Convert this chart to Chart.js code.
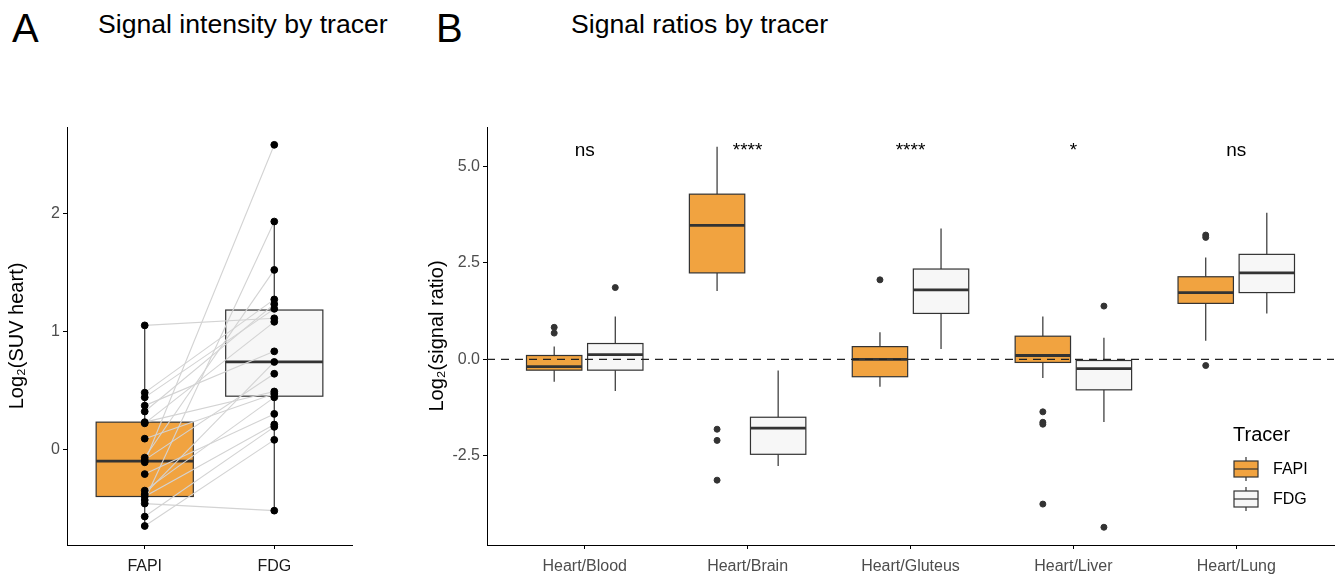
<!DOCTYPE html>
<html>
<head>
<meta charset="utf-8">
<script src="https://cdn.jsdelivr.net/npm/chart.js@4.4.1/dist/chart.umd.min.js"></script>
<style>
 body{margin:0;background:#fff;font-family:"Liberation Sans",Arial,sans-serif;}
 #wrap{position:relative;width:1339px;height:576px;overflow:hidden;}
 .tag{position:absolute;font-size:40px;line-height:40px;color:#000;}
 .ttl{position:absolute;font-size:26.6px;line-height:26px;color:#000;white-space:nowrap;}
 canvas{position:absolute;top:0;}
</style>
</head>
<body>
<div id="wrap">
 <div class="tag" style="left:12px;top:8px">A</div>
 <div class="ttl" style="left:98px;top:11px">Signal intensity by tracer</div>
 <div class="tag" style="left:436px;top:8px">B</div>
 <div class="ttl" style="left:571px;top:11px">Signal ratios by tracer</div>
 <canvas id="cA" width="400" height="576" style="left:0"></canvas>
 <canvas id="cB" width="919" height="576" style="left:420px"></canvas>
</div>
<script>
// ---- panel A: log2 SUV heart, paired FAPI / FDG
var tracers = ['FAPI', 'FDG'];
var suvFapi = [1.05, 0.48, 0.44, 0.37, 0.32, 0.23, 0.22, 0.09, -0.07, -0.09, -0.11, -0.21, -0.35, -0.38, -0.40, -0.43, -0.46, -0.57, -0.65];
var suvFdg  = [1.11, 1.27, 1.19, 0.83, 1.23, 0.49, 1.08, 0.47, 1.52, 0.64, 2.58, 0.30, 0.44, 0.74, 0.21, 1.93, -0.52, 0.19, 0.08];
var suvLow  = [-0.65, -0.52];
var suvQ1   = [-0.40, 0.45];
var suvMed  = [-0.10, 0.74];
var suvQ3   = [0.23, 1.18];
var suvHigh = [1.05, 1.93];
var suvTicks = [0, 1, 2];

// ---- panel B: log2 signal ratios
var ratios = ['Heart/Blood', 'Heart/Brain', 'Heart/Gluteus', 'Heart/Liver', 'Heart/Lung'];
var fapiLow  = [-0.58, 1.77, -0.71, -0.48, 0.48];
var fapiQ1   = [-0.28, 2.24, -0.45, -0.08, 1.45];
var fapiMed  = [-0.19, 3.47, 0.00, 0.10, 1.73];
var fapiQ3   = [0.10, 4.28, 0.33, 0.60, 2.14];
var fapiHigh = [0.33, 5.51, 0.70, 1.11, 2.64];
var fdgLow   = [-0.82, -2.76, 0.27, -1.62, 1.19];
var fdgQ1    = [-0.28, -2.46, 1.19, -0.79, 1.73];
var fdgMed   = [0.12, -1.78, 1.80, -0.24, 2.24];
var fdgQ3    = [0.41, -1.50, 2.34, -0.03, 2.72];
var fdgHigh  = [1.11, -0.29, 3.39, 0.56, 3.80];
var fapiOutCat = [0, 0, 1, 1, 1, 2, 3, 3, 3, 3, 4, 4, 4];
var fapiOutVal = [0.83, 0.68, -1.81, -2.10, -3.13, 2.06, -1.36, -1.63, -1.68, -3.75, 3.22, 3.16, -0.16];
var fdgOutCat = [0, 3, 3];
var fdgOutVal = [1.86, 1.38, -4.35];
var sigLabels = ['ns', '****', '****', '*', 'ns'];
var ratioTicks = [-2.5, 0, 2.5, 5];

var FONT = '"Liberation Sans", Arial, sans-serif';
var ORANGE = '#f1a340';
var LIGHT = '#f7f7f7';
var DARK = '#333333';
Chart.defaults.font.family = FONT;
Chart.defaults.animation = false;

function drawBox(ctx, xs, ys, x, half, low, q1, med, q3, high, fill) {
    var px = xs.getPixelForValue(x);
    var l = xs.getPixelForValue(x - half);
    var r = xs.getPixelForValue(x + half);
    var t = ys.getPixelForValue(q3), b = ys.getPixelForValue(q1);
    ctx.save();
    ctx.strokeStyle = DARK;
    ctx.lineWidth = 1.2;
    ctx.beginPath();
    ctx.moveTo(px, ys.getPixelForValue(high)); ctx.lineTo(px, t);
    ctx.moveTo(px, b); ctx.lineTo(px, ys.getPixelForValue(low));
    ctx.stroke();
    ctx.fillStyle = fill;
    ctx.fillRect(l, t, r - l, b - t);
    ctx.strokeRect(l, t, r - l, b - t);
    ctx.lineWidth = 2.8;
    var m = ys.getPixelForValue(med);
    ctx.beginPath(); ctx.moveTo(l, m); ctx.lineTo(r, m); ctx.stroke();
    ctx.restore();
}

function yAxis(min, max, ticks, fmt, title) {
    return {
        type: 'linear', min: min, max: max,
        afterBuildTicks: function(s) { s.ticks = ticks.map(function(v){ return {value: v}; }); },
        afterFit: function(s) { s.width = 67; },
        grid: {drawOnChartArea: false, drawTicks: true, tickLength: 4, color: '#000'},
        border: {display: true, color: '#000', width: 1},
        ticks: {color: '#4d4d4d', font: {size: 16}, padding: 3, callback: fmt},
        title: {display: true, text: title, color: '#000', font: {size: 20}, padding: {top: 5, bottom: 0}}
    };
}
function xAxis(min, max, names, col) {
    return {
        type: 'linear', min: min, max: max,
        afterBuildTicks: function(s) { s.ticks = names.map(function(n, i){ return {value: i + 1}; }); },
        afterFit: function(s) { s.height = 31; },
        grid: {drawOnChartArea: false, drawTicks: true, tickLength: 4, color: '#000'},
        border: {display: true, color: '#000', width: 1},
        ticks: {color: col, font: {size: 16}, padding: 8, autoSkip: false, maxRotation: 0,
            callback: function(v) { return names[v - 1]; }}
    };
}

// panel A
var pairSets = [];
for (var i = 0; i < suvFapi.length; i++) {
    pairSets.push({type: 'line', data: [{x: 1, y: suvFapi[i]}, {x: 2, y: suvFdg[i]}],
        borderColor: '#d3d3d3', borderWidth: 1.1, pointRadius: 0, order: 1});
}
var ptsA = [];
for (var i = 0; i < suvFapi.length; i++) ptsA.push({x: 1, y: suvFapi[i]});
for (var i = 0; i < suvFdg.length; i++) ptsA.push({x: 2, y: suvFdg[i]});

var boxesA = {
    id: 'boxesA',
    beforeDatasetsDraw: function(chart) {
        var xs = chart.scales.x, ys = chart.scales.y;
        for (var k = 0; k < tracers.length; k++) {
            drawBox(chart.ctx, xs, ys, k + 1, 0.375, suvLow[k], suvQ1[k], suvMed[k], suvQ3[k], suvHigh[k], k == 0 ? ORANGE : LIGHT);
        }
    }
};

new Chart(document.getElementById('cA'), {
    type: 'scatter',
    data: {datasets: [{data: ptsA, backgroundColor: '#000', borderColor: '#000', pointRadius: 3.4, order: 0}].concat(pairSets)},
    options: {
        responsive: false,
        layout: {padding: {top: 127, right: 48, left: 0, bottom: 0}},
        plugins: {legend: {display: false}, tooltip: {enabled: false}},
        scales: {
            x: xAxis(0.4, 2.6, tracers, '#1a1a1a'),
            y: yAxis(-0.811, 2.731, suvTicks, function(v){ return String(v); }, 'Log\u2082(SUV heart)')
        }
    },
    plugins: [boxesA]
});

// panel B
var OFF = 0.1875, HALF = 0.17;
var outFapi = fapiOutCat.map(function(c, i){ return {x: c + 1 - OFF, y: fapiOutVal[i]}; });
var outFdg = fdgOutCat.map(function(c, i){ return {x: c + 1 + OFF, y: fdgOutVal[i]}; });

var boxesB = {
    id: 'boxesB',
    beforeDatasetsDraw: function(chart) {
        var ctx = chart.ctx, xs = chart.scales.x, ys = chart.scales.y, a = chart.chartArea;
        for (var k = 0; k < ratios.length; k++) {
            drawBox(ctx, xs, ys, k + 1 - OFF, HALF, fapiLow[k], fapiQ1[k], fapiMed[k], fapiQ3[k], fapiHigh[k], ORANGE);
            drawBox(ctx, xs, ys, k + 1 + OFF, HALF, fdgLow[k], fdgQ1[k], fdgMed[k], fdgQ3[k], fdgHigh[k], LIGHT);
        }
        var z = ys.getPixelForValue(0);
        ctx.save();
        ctx.strokeStyle = '#222';
        ctx.lineWidth = 1.4;
        ctx.setLineDash([8, 6]);
        ctx.beginPath(); ctx.moveTo(a.left, z); ctx.lineTo(a.right, z); ctx.stroke();
        ctx.restore();
    },
    afterDraw: function(chart) {
        var ctx = chart.ctx, xs = chart.scales.x, ys = chart.scales.y;
        ctx.save();
        ctx.fillStyle = '#000';
        ctx.font = '19px ' + FONT;
        ctx.textAlign = 'center';
        ctx.textBaseline = 'alphabetic';
        for (var k = 0; k < sigLabels.length; k++) {
            ctx.fillText(sigLabels[k], xs.getPixelForValue(k + 1), ys.getPixelForValue(5.27));
        }
        // legend
        var lx = 813, keys = [[ORANGE, 469, 'FAPI'], [LIGHT, 499, 'FDG']];
        ctx.textAlign = 'left';
        ctx.textBaseline = 'middle';
        ctx.font = '20px ' + FONT;
        ctx.fillText('Tracer', lx, 435);
        ctx.font = '16px ' + FONT;
        keys.forEach(function(kk) {
            var cy = kk[1];
            ctx.strokeStyle = DARK;
            ctx.lineWidth = 1.2;
            ctx.beginPath(); ctx.moveTo(lx + 13, cy - 12); ctx.lineTo(lx + 13, cy + 12); ctx.stroke();
            ctx.fillStyle = kk[0];
            ctx.fillRect(lx + 1, cy - 8, 24, 16);
            ctx.strokeRect(lx + 1, cy - 8, 24, 16);
            ctx.beginPath(); ctx.moveTo(lx + 1, cy); ctx.lineTo(lx + 25, cy); ctx.stroke();
            ctx.fillStyle = '#000';
            ctx.fillText(kk[2], lx + 40, cy + 1);
        });
        ctx.restore();
    }
};

new Chart(document.getElementById('cB'), {
    type: 'scatter',
    data: {datasets: [
        {data: outFapi, backgroundColor: DARK, borderColor: DARK, pointRadius: 3},
        {data: outFdg, backgroundColor: DARK, borderColor: DARK, pointRadius: 3}
    ]},
    options: {
        responsive: false,
        layout: {padding: {top: 127, right: 5, left: 0, bottom: 0}},
        plugins: {legend: {display: false}, tooltip: {enabled: false}},
        scales: {
            x: xAxis(0.4, 5.6, ratios, '#4d4d4d'),
            y: yAxis(-4.81, 6.02, ratioTicks, function(v){ return v.toFixed(1); }, 'Log\u2082(signal ratio)')
        }
    },
    plugins: [boxesB]
});
</script>
</body>
</html>
